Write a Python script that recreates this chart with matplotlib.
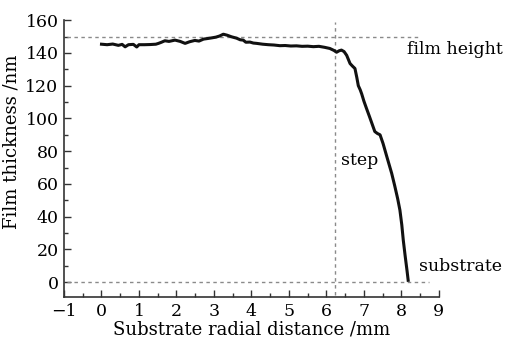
import matplotlib
matplotlib.use("Agg")
import matplotlib.pyplot as plt
from matplotlib.ticker import MultipleLocator

# Data
distance_mm = [0.00, 0.15, 0.30, 0.45, 0.55, 0.63, 0.72, 0.85, 0.94, 1.00,
               1.15, 1.30, 1.45, 1.52, 1.60, 1.69, 1.80, 1.96, 2.10, 2.23,
               2.35, 2.49, 2.60, 2.72, 2.84, 2.95, 3.05, 3.15, 3.25, 3.35,
               3.47, 3.60, 3.70, 3.78, 3.85, 3.96, 4.05, 4.14, 4.30, 4.45,
               4.60, 4.76, 4.90, 5.05, 5.20, 5.35, 5.50, 5.65, 5.80, 5.95,
               6.09, 6.20, 6.27, 6.34, 6.40, 6.47, 6.54, 6.63, 6.70, 6.76,
               6.81, 6.85, 6.90, 6.94, 7.00, 7.07, 7.15, 7.22, 7.29, 7.36,
               7.43, 7.51, 7.60, 7.67, 7.74, 7.82, 7.90, 7.96, 8.01, 8.05,
               8.10, 8.15, 8.18]
thickness_nm = [145.3, 145.0, 145.4, 144.6, 145.2, 143.7, 145.0, 145.2, 143.6, 145.0,
                145.0, 145.1, 145.3, 145.8, 146.5, 147.4, 147.0, 147.8, 147.0, 145.8,
                146.8, 147.6, 147.2, 148.4, 148.8, 149.2, 149.6, 150.3, 151.4, 150.8,
                149.8, 149.0, 148.0, 147.8, 146.5, 146.6, 146.0, 145.8, 145.3, 145.0,
                144.8, 144.4, 144.5, 144.2, 144.3, 144.0, 144.1, 143.8, 144.0, 143.4,
                142.7, 141.5, 140.4, 141.3, 141.7, 140.8, 138.5, 133.5, 131.8, 130.5,
                125.0, 120.0, 117.5, 115.0, 110.5, 106.0, 101.0, 96.5, 92.0, 90.8,
                90.0, 84.7, 77.5, 72.0, 66.5, 59.0, 51.0, 44.0, 35.0, 25.6,
                16.0, 7.0, 1.2]

film_height = 150
substrate_level = 0
step_x = 6.23
xticks = [-1, 0, 1, 2, 3, 4, 5, 6, 7, 8, 9]
yticks = [0, 20, 40, 60, 80, 100, 120, 140, 160]

plt.rcParams['font.family'] = ['DejaVu Serif']
fig = plt.figure(figsize=(5.08, 3.41), dpi=100)
ax = fig.add_axes([0.126, 0.129, 0.738, 0.812])

ax.plot(distance_mm, thickness_nm, color='#111111', lw=2.2, zorder=3)

dash_kw = dict(color='#8a8a8a', lw=1.0, linestyle=(0, (2.5, 2.5)), zorder=2)
ax.plot([-0.93, 8.52], [film_height, film_height], **dash_kw)
ax.plot([-0.93, 8.73], [substrate_level, substrate_level], **dash_kw)
ax.plot([step_x, step_x], [-8, 159], **dash_kw)

ax.set_xlim(-1, 9)
ax.set_ylim(-9, 160)
ax.set_xticks(xticks)
ax.set_yticks(yticks)
ax.xaxis.set_minor_locator(MultipleLocator(0.5))
ax.yaxis.set_minor_locator(MultipleLocator(10))
ax.tick_params(which='both', direction='in', colors='#333333', labelcolor='black',
               labelsize=12.5, width=1.0)
ax.tick_params(which='major', length=5, pad=4)
ax.tick_params(which='minor', length=3)
for s in ['top', 'right']:
    ax.spines[s].set_visible(False)
for s in ['left', 'bottom']:
    ax.spines[s].set_color('#333333')
    ax.spines[s].set_linewidth(1.2)

ax.set_xlabel('Substrate radial distance /mm', fontsize=13, labelpad=1)
ax.set_ylabel('Film thickness /nm', fontsize=13)
ax.yaxis.set_label_coords(-0.117, 0.56)

ax.text(8.15, 142, 'film height', fontsize=12.5, va='center', ha='left', clip_on=False)
ax.text(6.39, 74.5, 'step', fontsize=12.5, va='center', ha='left', clip_on=False)
ax.text(8.47, 9.8, 'substrate', fontsize=12.5, va='center', ha='left', clip_on=False)

fig.savefig('out.png', dpi=100)
